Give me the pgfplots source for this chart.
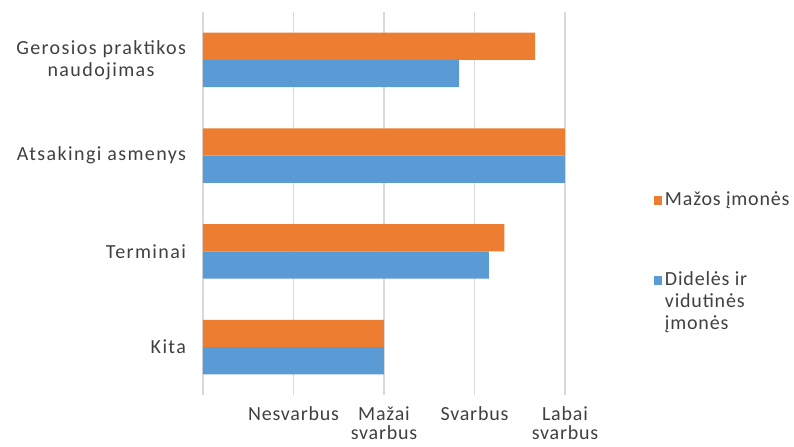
\documentclass[border=0pt]{standalone}
\usepackage{fontspec}
\setmainfont{Carlito}
\newfontfamily\ylabfont[LetterSpace=7]{Carlito}
\newfontfamily\lsfont[LetterSpace=4]{Carlito}
\usepackage{pgfplots}
\pgfplotsset{compat=1.18}
\definecolor{orng}{RGB}{237,125,49}
\definecolor{blu}{RGB}{91,155,213}
\definecolor{grd}{RGB}{217,217,217}
\definecolor{txt}{RGB}{64,64,64}
\begin{document}
\begin{tikzpicture}
\path[use as bounding box] (-152.25pt,-39pt) rectangle (443.25pt,296.25pt);
\begin{axis}[
 scale only axis, width=271.5pt, height=287.25pt,
 xbar, bar width=0.284,
 xmin=0, xmax=4, ymin=-0.5, ymax=3.5,
 xtick={0,1,2,3,4},
 xticklabels={,Nesvarbus,Mažai\\svarbus,Svarbus,Labai\\svarbus},
 ytick={0,1,2,3},
 yticklabels={Kita,Terminai,Atsakingi asmenys,Gerosios praktikos\\naudojimas},
 xmajorgrids, major grid style={grd, line width=1.1pt},
 axis line style={draw=none}, tick style={draw=none},
 xticklabel style={font=\lsfont\fontsize{15}{14.5}\selectfont, text=txt, align=center, yshift=-5pt},
 yticklabel style={font=\ylabfont\fontsize{15}{16.5}\selectfont, text=txt, align=center, xshift=-5pt},
 legend style={draw=none, at={(1.235,0.545)}, anchor=north west, row sep=43pt,
   font=\lsfont\fontsize{15}{16.5}\selectfont, text=txt, cells={anchor=base west}},
]
\addplot[fill=orng, draw=none, bar shift=0.142,
  legend image code/.code={\fill[orng] (0pt,0.8pt) rectangle (6pt,7pt);}]
  coordinates {(3.67,3) (4,2) (3.33,1) (2,0)};
\addplot[fill=blu, draw=none, bar shift=-0.142,
  legend image code/.code={\fill[blu] (0pt,0.8pt) rectangle (6pt,7pt);}]
  coordinates {(2.83,3) (4,2) (3.16,1) (2,0)};
\legend{Mažos įmonės, {\begin{tabular}[t]{@{}l@{}}Didelės ir\\vidutinės\\įmonės\end{tabular}}}
\end{axis}
\end{tikzpicture}
\end{document}
